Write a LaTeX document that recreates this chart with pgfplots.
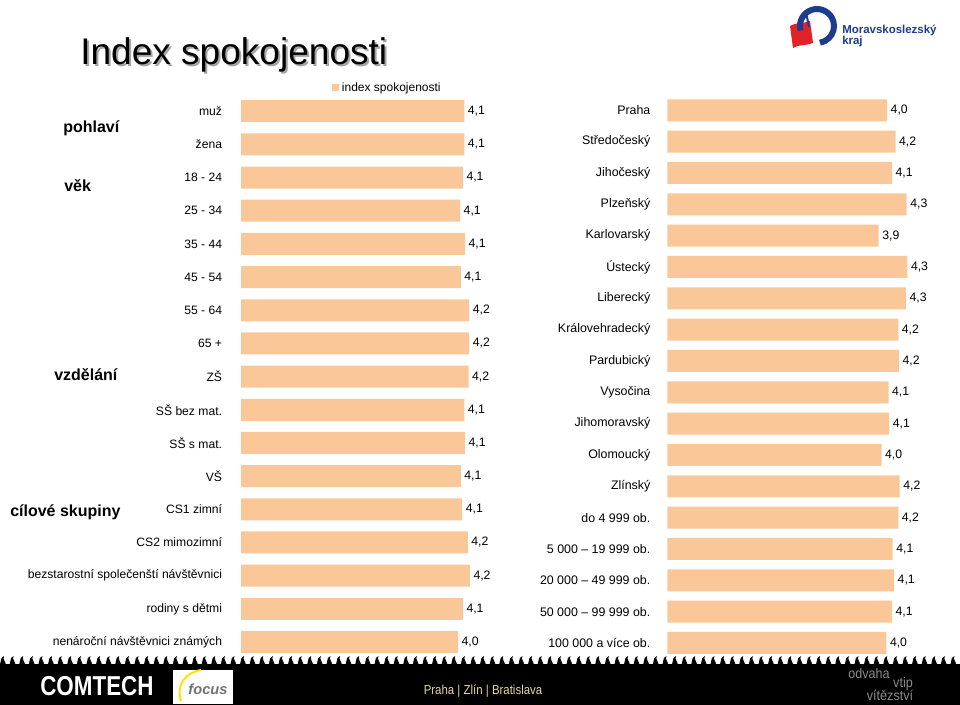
\documentclass[border=0pt]{standalone}
\usepackage{pgfplots}
\pgfplotsset{compat=1.18}
\usepackage{pgfplotstable}
\usepackage{graphicx}
\usepackage{fontspec}
\setmainfont{Liberation Sans}
\definecolor{barc}{RGB}{250,200,152}
\definecolor{mskblue}{RGB}{30,60,140}
\definecolor{mskred}{RGB}{225,35,40}
\definecolor{tanc}{RGB}{230,212,165}

\pgfplotstableread{
y x lab
0 4.12 4,1
1 4.12 4,1
2 4.10 4,1
3 4.06 4,1
4 4.13 4,1
5 4.07 4,1
6 4.19 4,2
7 4.19 4,2
8 4.18 4,2
9 4.12 4,1
10 4.13 4,1
11 4.07 4,1
12 4.09 4,1
13 4.17 4,2
14 4.20 4,2
15 4.10 4,1
16 4.03 4,0
}\lefttab

\pgfplotstableread{
y x lab
0 4.04 4,0
1 4.16 4,2
2 4.11 4,1
3 4.32 4,3
4 3.92 3,9
5 4.33 4,3
6 4.31 4,3
7 4.20 4,2
8 4.21 4,2
9 4.06 4,1
10 4.07 4,1
11 3.96 4,0
12 4.22 4,2
13 4.20 4,2
14 4.12 4,1
15 4.14 4,1
16 4.11 4,1
17 4.03 4,0
}\righttab

\pgfplotsset{
  barpanel/.style={
    anchor=north west, scale only axis,
    width=210pt, height=423pt,
    y dir=reverse, xbar, bar width=16.5pt, bar shift=0pt,
    axis line style={draw=none}, tick style={draw=none},
    xtick=\empty,
    nodes near coords, point meta=explicit symbolic,
    nodes near coords style={font=\fontsize{9.2}{10}\selectfont, anchor=west, inner sep=2.5pt, text=black},
    clip=false,
  }
}

\begin{document}
\begin{tikzpicture}
\useasboundingbox (0,0) rectangle (720pt,-528.75pt);
\fill[white] (0,0) rectangle (720pt,-528.75pt);

\begin{axis}[barpanel,
  at={({241*0.75pt},{-94.6*0.75pt})},
  xmin=0.93, xmax=4.93, ymin=-0.5, ymax=16.5,
  ytick={0,...,16},
  yticklabels={muž,žena,18 - 24,25 - 34,35 - 44,45 - 54,55 - 64,65 +,ZŠ,SŠ bez mat.,SŠ s mat.,VŠ,CS1 zimní,CS2 mimozimní,bezstarostní společenští návštěvnici,rodiny s dětmi,nenároční návštěvnici známých},
  yticklabel style={font=\fontsize{9.1}{10}\selectfont, inner sep=0pt, anchor=east, xshift=-9.75pt},
  legend style={draw=none, fill=none, inner sep=0pt, at={(0.325,1.012)}, anchor=west, font=\fontsize{9}{10}\selectfont},
  legend image code/.code={\fill[barc] (0pt,-2.6pt) rectangle (5.25pt,2.6pt);},
]
\addplot[fill=barc, draw=none] table[x=x,y=y,meta=lab]{\lefttab};
\addlegendentry{index spokojenosti}
\end{axis}

\begin{axis}[barpanel,
  at={({667.3*0.75pt},{-94.6*0.75pt})},
  xmin=0.90, xmax=4.90, ymin=-0.5, ymax=17.5,
  ytick={0,...,17},
  yticklabels={Praha,Středočeský,Jihočeský,Plzeňský,Karlovarský,Ústecký,Liberecký,Královehradecký,Pardubický,Vysočina,Jihomoravský,Olomoucký,Zlínský,do 4 999 ob.,5 000 – 19 999 ob.,20 000 – 49 999 ob.,50 000 – 99 999 ob.,100 000 a více ob.},
  yticklabel style={font=\fontsize{9.3}{10}\selectfont, inner sep=0pt, anchor=east, xshift=-8.25pt},
]
\addplot[fill=barc, draw=none] table[x=x,y=y,meta=lab]{\righttab};
\end{axis}

\begin{scope}[x=0.75pt,y=-0.75pt]
% title
\node[anchor=base west, inner sep=0pt, font=\fontsize{27.8}{30}\selectfont, text=black!35] at (82,67) {Index spokojenosti};
\node[anchor=base west, inner sep=0pt, font=\fontsize{27.8}{30}\selectfont] at (80,65) {Index spokojenosti};
% group labels
\node[anchor=base west, inner sep=0pt, font=\bfseries\fontsize{12}{14}\selectfont] at (63,133) {pohlaví};
\node[anchor=base west, inner sep=0pt, font=\bfseries\fontsize{12}{14}\selectfont] at (64,192) {věk};
\node[anchor=base west, inner sep=0pt, font=\bfseries\fontsize{12}{14}\selectfont] at (54,381) {vzdělání};
\node[anchor=base west, inner sep=0pt, font=\bfseries\fontsize{12}{14}\selectfont] at (10,517) {cílové skupiny};
% logo
\fill[mskred] (790,26) .. controls (797,22) and (803,24) .. (810,21) -- (813,43) .. controls (806,46) and (799,44) .. (793,48) -- cycle;
\draw[mskblue, line width=4.5] (817,26) ++(165:17) arc (165:440:17);
\draw[mskblue, line width=1.5] (806,12) -- (809,27);
\node[anchor=base west, inner sep=0pt, font=\bfseries\fontsize{8.6}{9}\selectfont, text=mskblue] at (842,34) {Moravskoslezský};
\node[anchor=base west, inner sep=0pt, font=\bfseries\fontsize{8.6}{9}\selectfont, text=mskblue] at (842,45) {kraj};
% footer
\fill[black] (0,664) rectangle (960,705);
\foreach \i in {0,9.6,...,955} {
  \fill[black] (\i,664.5) -- (\i+1.5,658) -- (\i+4,656) -- (\i+3.5,658.5) -- (\i+6,664.5) -- cycle;
}
\node[anchor=west, inner sep=0pt, text=white, font=\bfseries\fontsize{20.5}{21}\selectfont] at (40,686) {\scalebox{0.82}[1]{COMTECH}};
\fill[white] (173,670) rectangle (233,704);
\draw[yellow!85!orange, line width=1.5] (181,701) .. controls (176,686) and (184,673) .. (201,670);
\node[inner sep=0pt, text=black!55, font=\bfseries\itshape\fontsize{11}{12}\selectfont] at (208,689) {focus};
\node[inner sep=0pt, text=tanc, font=\fontsize{9.75}{11}\selectfont] at (483,691) {\scalebox{0.88}[1]{Praha | Zlín | Bratislava}};
\node[inner sep=0pt, text=black!45, font=\fontsize{10.5}{11}\selectfont] at (869,673) {\scalebox{0.9}[1]{odvaha}};
\node[inner sep=0pt, text=black!45, font=\fontsize{10.5}{11}\selectfont] at (903,684) {\scalebox{0.9}[1]{vtip}};
\node[inner sep=0pt, text=black!45, font=\fontsize{10.5}{11}\selectfont] at (890,695) {\scalebox{0.9}[1]{vítězství}};
\end{scope}
\end{tikzpicture}
\end{document}
